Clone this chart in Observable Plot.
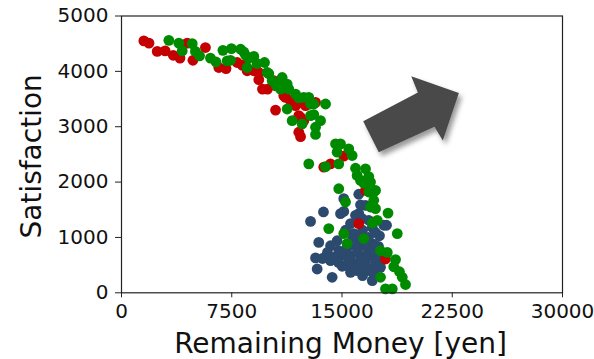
<!DOCTYPE html>
<html>
<head>
<meta charset="utf-8">
<script src="https://cdn.jsdelivr.net/npm/d3@7"></script>
<script src="https://cdn.jsdelivr.net/npm/@observablehq/plot@0.6"></script>
<style>
  html, body { margin: 0; padding: 0; background: #fff; }
  #chart { width: 594px; height: 359px; }
</style>
</head>
<body>
<div id="chart"></div>
<script>
// Tick labels
const xTicks = [0, 7500, 15000, 22500, 30000];
const yTicks = [0, 1000, 2000, 3000, 4000, 5000];
const xLabel = "Remaining Money [yen]";
const yLabel = "Satisfaction";

// Series: red
const redMoney = [1520,1870,2430,2970,3520,3980,4470,4860,5710,6620,7110,7870,8210,8550,9000,9340,9340,9590,9930,10360,10480,10480,11040,11160,11500,11950,12180,12520,12740,12060,12180,12060,12180,12400,13760,14220,15120,16600,16140,17960,11840,13200];
const redSatisfaction = [4550,4510,4360,4370,4290,4240,4510,4200,4430,4070,4050,4160,4110,4010,4010,3980,3850,3680,3680,3830,3740,3300,3560,3530,3470,3440,3440,3380,3410,3200,3170,2900,2820,3110,2270,2330,2470,1850,1250,610,3380,3440];

// Series: green
const greenMoney = [3220,3900,4130,4810,5030,5310,6050,6430,6900,7190,7480,8100,8320,7420,8440,8660,8550,9000,9230,9730,9910,10020,10250,10540,10930,11040,11270,11380,10820,11840,12060,12400,12740,12860,13080,13880,11270,11610,13080,13540,13200,13200,12860,12290,14560,14900,14670,15460,15690,12740,13880,14780,15920,16600,16030,16820,16260,16940,16480,17280,14780,17160,16820,17160,15240,16940,17280,18130,17400,17060,14100,15120,18760,16480,15350,17620,18080,18640,18520,18910,19100,19320,17620,17960,18420];
const greenSatisfaction = [4560,4510,4370,4500,4360,4280,4240,4170,4380,4190,4410,4400,4350,4200,4290,4240,4070,4270,4140,4160,3980,3960,3830,3740,3890,3740,3770,3680,3680,3590,3520,3530,3530,3410,3410,3410,3320,3110,3220,3110,2990,2860,3200,3050,2690,2690,2540,2600,2480,2330,2280,2330,2250,2240,2120,2100,2030,2000,1980,1850,1880,1820,1820,1670,1640,1550,1520,1440,1310,1260,1160,1070,1070,980,890,760,730,600,470,380,280,150,280,70,70];

// Series: navy
const navyMoney = [16140,16260,15120,13740,12860,14900,15120,15580,16140,16820,17060,18030,17550,13420,14670,14780,15350,15920,16600,17160,13200,13670,14220,14900,15580,16260,16820,17400,13310,15010,15800,16480,17060,17620,14330,16720,17160,16260,15350,16030,15800,16030,14440,16370,17840,16720,17400,17060,13880,16400,15240,14220,17280,15720,14760,15440,16060,16600,17080,15580,16400,15240,16800,17280,15920,16600,14010,16260,17480];
const navySatisfaction = [1780,1590,1700,1460,1290,1430,1470,1250,1430,1310,1180,1220,1030,910,940,760,820,850,850,880,630,620,580,670,670,640,670,700,430,480,520,490,430,460,280,400,350,580,490,400,1070,880,640,1340,1220,700,580,220,640,1130,1130,850,550,980,550,620,760,550,760,370,310,760,1000,1090,1400,1580,730,1000,840];

// Annotation arrow outline (in data units)
const arrowMoney = [16440, 20160, 19710, 22950, 21860, 21290, 17500];
const arrowSatisfaction = [3100, 3620, 3910, 3610, 2750, 3000, 2540];

const colors = { red: "#c40000", green: "#008a00", navy: "#2c4a6e", arrow: "#4a4a4a" };

const toRows = (xs, ys, group) => xs.map((x, i) => ({ money: x, satisfaction: ys[i], group }));
const navyRows = toRows(navyMoney, navySatisfaction, "navy");
const redRows = toRows(redMoney, redSatisfaction, "red");
const greenRows = toRows(greenMoney, greenSatisfaction, "green");
const arrowRows = arrowMoney.map((x, i) => ({ money: x, satisfaction: arrowSatisfaction[i] }));

const shadowRender = (index, scales, values, dimensions, context, next) => {
  const g = next(index, scales, values, dimensions, context);
  const ns = "http://www.w3.org/2000/svg";
  const defs = document.createElementNS(ns, "defs");
  defs.innerHTML = '<filter id="arrowShadow" x="-30%" y="-30%" width="160%" height="160%"><feDropShadow dx="3" dy="4" stdDeviation="2.5" flood-color="#000" flood-opacity="0.4"/></filter>';
  g.insertBefore(defs, g.firstChild);
  g.setAttribute("filter", "url(#arrowShadow)");
  return g;
};

const chart = Plot.plot({
  width: 594,
  height: 359,
  marginLeft: 121,
  marginRight: 32,
  marginTop: 15.5,
  marginBottom: 66.7,
  style: { fontFamily: "DejaVu Sans", background: "#fff", color: "#111" },
  x: { domain: [0, 30000] },
  y: { domain: [0, 5000] },
  marks: [
    Plot.line(arrowRows, { x: "money", y: "satisfaction", fill: colors.arrow, stroke: "none", render: shadowRender }),
    Plot.dot(navyRows, { x: "money", y: "satisfaction", r: 5.4, fill: colors.navy, stroke: "none" }),
    Plot.dot(redRows, { x: "money", y: "satisfaction", r: 5.4, fill: colors.red, stroke: "none" }),
    Plot.dot(greenRows, { x: "money", y: "satisfaction", r: 5.4, fill: colors.green, stroke: "none" }),
    Plot.frame({ stroke: "#222", strokeWidth: 1.2 }),
    Plot.axisX({ ticks: xTicks, tickSize: 5, tickPadding: 6, fontSize: 20, tickFormat: d => String(d), label: null, stroke: "#222" }),
    Plot.axisY({ ticks: yTicks, tickSize: 6, tickPadding: 7, fontSize: 20, tickFormat: d => String(d), label: null, stroke: "#222" }),
    Plot.text([xLabel], { text: d => d, frameAnchor: "bottom", textAnchor: "middle", lineAnchor: "bottom", dy: 59.7, dx: -1.5, fontSize: 28, fill: "#111" }),
    Plot.text([yLabel], { text: d => d, frameAnchor: "left", textAnchor: "middle", rotate: -90, lineAnchor: "middle", dx: -89.5, dy: 2, fontSize: 28, fill: "#111" })
  ]
});

document.getElementById("chart").appendChild(chart);
</script>
</body>
</html>
